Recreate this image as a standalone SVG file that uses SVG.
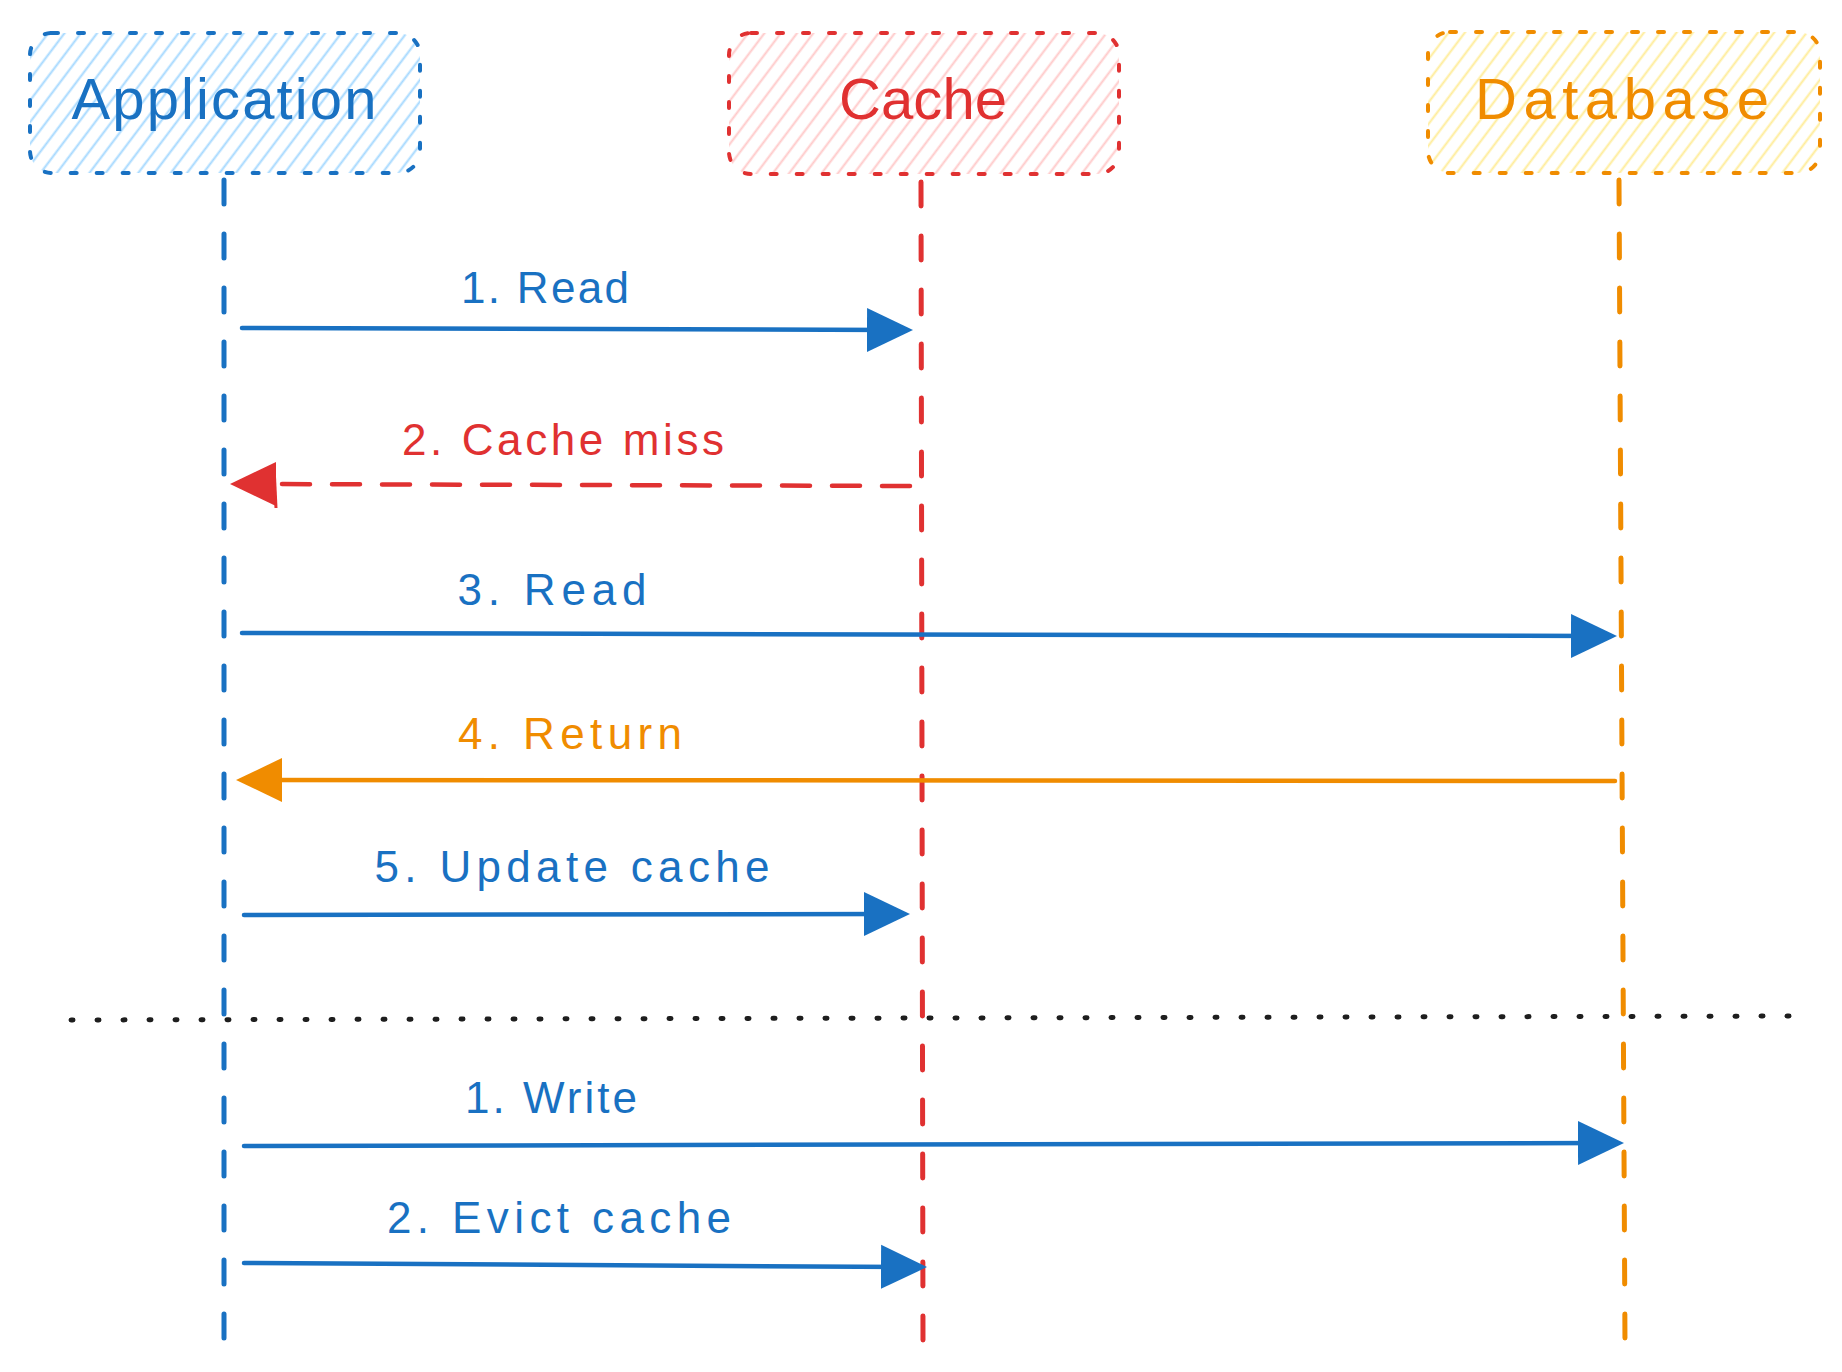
<svg xmlns="http://www.w3.org/2000/svg" width="1842" height="1372" viewBox="0 0 1842 1372">
<style>
  .title { font-family: "Liberation Sans", "DejaVu Sans", sans-serif; font-size: 58px; text-anchor: middle; }
  .label { font-family: "Liberation Sans", "DejaVu Sans", sans-serif; font-size: 44px; text-anchor: middle; }
  .box { stroke-width: 4; stroke-dasharray: 6 20; stroke-linecap: round; }
  .life { fill: none; stroke-width: 5; stroke-dasharray: 24 30; stroke-linecap: round; }
  .msg { fill: none; stroke-width: 4.5; stroke-linecap: round; }
  .blue { stroke: #1971c2; }
  .red { stroke: #e03131; }
  .orange { stroke: #f08c00; }
</style>
<defs>
  <pattern id="hBlue" patternUnits="userSpaceOnUse" width="13" height="13" patternTransform="rotate(37)">
    <line x1="6.5" y1="0" x2="6.5" y2="13" stroke="#a5d8ff" stroke-width="2"/>
  </pattern>
  <pattern id="hRed" patternUnits="userSpaceOnUse" width="13" height="13" patternTransform="rotate(37)">
    <line x1="6.5" y1="0" x2="6.5" y2="13" stroke="#ffc9c9" stroke-width="2"/>
  </pattern>
  <pattern id="hYellow" patternUnits="userSpaceOnUse" width="13" height="13" patternTransform="rotate(37)">
    <line x1="6.5" y1="0" x2="6.5" y2="13" stroke="#ffec99" stroke-width="2"/>
  </pattern>
  <marker id="aBlue" markerUnits="userSpaceOnUse" viewBox="0 -23 46 46" markerWidth="46" markerHeight="46" refX="26" refY="0" orient="auto">
    <path d="M0,-22 L46,0 L0,22 Z" fill="#1971c2"/>
  </marker>
  <marker id="aRed" markerUnits="userSpaceOnUse" viewBox="0 -23 46 46" markerWidth="46" markerHeight="46" refX="26" refY="0" orient="auto">
    <path d="M0,-22 L46,0 L0,22 Z" fill="#e03131"/>
  </marker>
  <marker id="aOrange" markerUnits="userSpaceOnUse" viewBox="0 -23 46 46" markerWidth="46" markerHeight="46" refX="26" refY="0" orient="auto">
    <path d="M0,-22 L46,0 L0,22 Z" fill="#f08c00"/>
  </marker>
</defs>

<rect width="1842" height="1372" fill="#ffffff"/>

<g id="node-application">
  <rect class="box blue" x="30" y="33" width="390" height="140" rx="22" fill="url(#hBlue)"/>
  <text class="title" x="224" y="119" fill="#1971c2" textLength="305" lengthAdjust="spacing">Application</text>
</g>
<g id="node-cache">
  <rect class="box red" x="729" y="33" width="390" height="141" rx="22" fill="url(#hRed)"/>
  <text class="title" x="923" y="119" fill="#e03131" textLength="168" lengthAdjust="spacing">Cache</text>
</g>
<g id="node-database">
  <rect class="box orange" x="1428" y="32" width="392" height="141" rx="22" fill="url(#hYellow)"/>
  <text class="title" x="1622" y="119" fill="#f08c00" textLength="294" lengthAdjust="spacing">Database</text>
</g>

<g id="lifelines">
  <line class="life blue" x1="224" y1="180" x2="224" y2="1345"/>
  <line class="life red" x1="921" y1="182" x2="923" y2="1345"/>
  <line class="life orange" x1="1619" y1="180" x2="1625" y2="1345"/>
</g>

<g id="divider">
  <line x1="71" y1="1020" x2="1798" y2="1016" stroke="#1e1e1e" stroke-width="5" stroke-dasharray="2 24" stroke-linecap="round"/>
</g>

<g id="connectors">
  <g id="msg-1">
    <path class="msg blue" d="M242,328 L893,330" marker-end="url(#aBlue)"/>
    <text class="label" x="545" y="303" fill="#1971c2" textLength="168" lengthAdjust="spacing">1. Read</text>
  </g>
  <g id="msg-2">
    <path class="msg red" d="M910,486 L250,484" stroke-dasharray="28 22" stroke-linecap="butt" marker-end="url(#aRed)"/>
    <line x1="274" y1="466" x2="276" y2="508" stroke="#e03131" stroke-width="3"/>
    <text class="label" x="563" y="455" fill="#e03131" textLength="322" lengthAdjust="spacing">2. Cache miss</text>
  </g>
  <g id="msg-3">
    <path class="msg blue" d="M242,633 L1597,636" marker-end="url(#aBlue)"/>
    <text class="label" x="552" y="605" fill="#1971c2" textLength="189" lengthAdjust="spacing">3. Read</text>
  </g>
  <g id="msg-4">
    <path class="msg orange" d="M1615,781 L256,780" marker-end="url(#aOrange)"/>
    <text class="label" x="570" y="749" fill="#f08c00" textLength="224" lengthAdjust="spacing">4. Return</text>
  </g>
  <g id="msg-5">
    <path class="msg blue" d="M244,915 L890,914" marker-end="url(#aBlue)"/>
    <text class="label" x="572" y="882" fill="#1971c2" textLength="395" lengthAdjust="spacing">5. Update cache</text>
  </g>
  <g id="msg-6">
    <path class="msg blue" d="M244,1146 L1604,1143" marker-end="url(#aBlue)"/>
    <text class="label" x="551" y="1113" fill="#1971c2" textLength="172" lengthAdjust="spacing">1. Write</text>
  </g>
  <g id="msg-7">
    <path class="msg blue" d="M244,1263 L907,1267" marker-end="url(#aBlue)"/>
    <text class="label" x="559" y="1233" fill="#1971c2" textLength="344" lengthAdjust="spacing">2. Evict cache</text>
  </g>
</g>
</svg>
